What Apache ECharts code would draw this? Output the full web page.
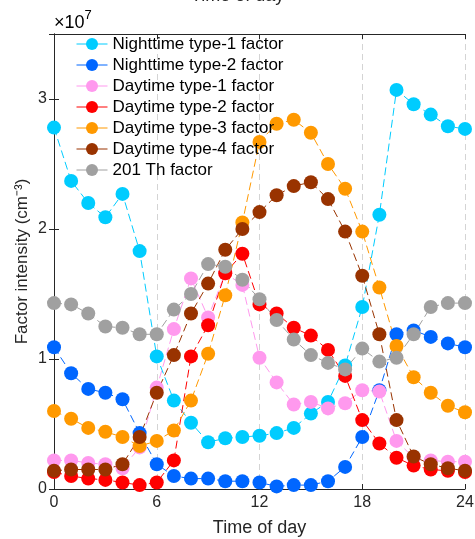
<!DOCTYPE html>
<html>
<head>
<meta charset="utf-8">
<script src="https://cdn.jsdelivr.net/npm/echarts@6/dist/echarts.min.js"></script>
<style>html,body{margin:0;padding:0;background:#fff;}#c{width:475px;height:539px;}</style>
</head>
<body>
<div id="c"></div>
<script>
// hours of day
const hours = [0,1,2,3,4,5,6,7,8,9,10,11,12,13,14,15,16,17,18,19,20,21,22,23,24];
// values in units of 1e7 cm^-3
const nightType1 = [2.78,2.37,2.20,2.09,2.27,1.83,1.02,0.68,0.51,0.36,0.39,0.40,0.41,0.43,0.47,0.58,0.67,0.95,1.40,2.11,3.07,2.96,2.88,2.79,2.77];
const nightType2 = [1.09,0.89,0.77,0.74,0.69,0.43,0.19,0.10,0.08,0.08,0.06,0.06,0.05,0.02,0.03,0.03,0.06,0.17,0.40,0.76,1.19,1.22,1.17,1.12,1.09];
const dayType1 = [0.22,0.22,0.20,0.19,0.16,0.32,0.78,1.23,1.62,1.32,1.66,1.57,1.01,0.82,0.65,0.67,0.62,0.66,0.76,0.75,0.37,0.24,0.22,0.21,0.21];
const dayType2 = [0.13,0.10,0.08,0.07,0.05,0.03,0.05,0.22,1.02,1.26,1.66,1.81,1.42,1.35,1.24,1.18,1.07,0.87,0.53,0.35,0.24,0.18,0.15,0.14,0.13];
const dayType3 = [0.60,0.54,0.47,0.44,0.40,0.33,0.37,0.45,0.68,1.04,1.49,2.05,2.67,2.81,2.84,2.74,2.50,2.31,1.98,1.55,1.10,0.86,0.74,0.64,0.59];
const dayType4 = [0.14,0.15,0.15,0.15,0.19,0.40,0.74,1.03,1.35,1.58,1.84,2.00,2.13,2.26,2.33,2.36,2.23,1.98,1.64,1.19,0.53,0.25,0.19,0.16,0.14];
const th201 = [1.43,1.42,1.35,1.25,1.24,1.19,1.19,1.38,1.50,1.73,1.71,1.61,1.46,1.30,1.15,1.03,0.97,0.92,1.08,0.98,1.01,1.19,1.40,1.43,1.43];
const xTicks = [0,6,12,18,24];
const yTicks = [0,1,2,3];

const seriesDefs = [
  {name:'Nighttime type-1 factor', data:nightType1, color:'#00CCFF'},
  {name:'Nighttime type-2 factor', data:nightType2, color:'#0066FF'},
  {name:'Daytime type-1 factor', data:dayType1, color:'#FF99EE'},
  {name:'Daytime type-2 factor', data:dayType2, color:'#FF0000'},
  {name:'Daytime type-3 factor', data:dayType3, color:'#FF9900'},
  {name:'Daytime type-4 factor', data:dayType4, color:'#993300'},
  {name:'201 Th factor', data:th201, color:'#A0A0A0'}
];

const axisColor = '#262626';
const font = 'Liberation Sans, Arial, sans-serif';

const chart = echarts.init(document.getElementById('c'), null, {renderer:'canvas'});
chart.setOption({
  animation:false,
  backgroundColor:'#fff',
  textStyle:{fontFamily:font},
  grid:{left:54, right:10, top:34, bottom:50, containLabel:false, outerBoundsMode:'none'},
  graphic:[
    {type:'text', left:'center', top:-13, style:{text:'Time of day', font:'18px '+font, fill:axisColor}},
    {type:'text', left:54, top:9, style:{
      text:'{a|×10}{b|7}', rich:{a:{fontSize:18, fontFamily:font, color:axisColor, verticalAlign:'bottom'}, b:{fontSize:13, fontFamily:font, color:axisColor, verticalAlign:'top', padding:[0,0,10,0]}}
    }}
  ],
  legend:{
    orient:'vertical', left:71, top:30,
    itemWidth:31, itemHeight:15, itemGap:3,
    textStyle:{fontSize:17, color:'#000', fontFamily:font, lineHeight:18},
    lineStyle:{type:'solid', width:1},
    data:seriesDefs.map(s=>s.name)
  },
  xAxis:[{
    type:'value', min:0, max:24, interval:6,
    name:'Time of day', nameLocation:'middle', nameGap:30,
    nameTextStyle:{fontSize:18, color:axisColor},
    axisLine:{show:true, onZero:false, lineStyle:{color:axisColor, width:1}},
    axisTick:{show:true, inside:true, length:5, lineStyle:{color:axisColor}},
    axisLabel:{fontSize:16, color:axisColor, margin:6, formatter:v=>xTicks.includes(v)?String(v):''},
    splitLine:{show:true, lineStyle:{type:[6,4], color:'#d4d4d4', width:1}}
  },{
    type:'value', min:0, max:24, interval:6, position:'top',
    axisLine:{show:true, onZero:false, lineStyle:{color:axisColor, width:1}},
    axisTick:{show:true, inside:true, length:5, lineStyle:{color:axisColor}},
    axisLabel:{show:false}, splitLine:{show:false}
  }],
  yAxis:[{
    type:'value', min:0, max:3.5, interval:1,
    name:'Factor intensity (cm⁻³)', nameLocation:'middle', nameGap:23, nameMoveOverlap:false,
    nameTextStyle:{fontSize:17, color:axisColor},
    axisLine:{show:true, lineStyle:{color:axisColor, width:1}},
    axisTick:{show:true, inside:true, length:5, lineStyle:{color:axisColor}},
    axisLabel:{fontSize:16, color:axisColor, margin:7, formatter:v=>yTicks.includes(v)?String(v):''},
    splitLine:{show:false}
  },{
    type:'value', min:0, max:3.5, interval:1, position:'right',
    axisLine:{show:true, lineStyle:{color:axisColor, width:1}},
    axisTick:{show:true, inside:true, length:5, lineStyle:{color:axisColor}},
    axisLabel:{show:false}, splitLine:{show:false}
  }],
  series:seriesDefs.map(s=>({
    name:s.name, type:'line',
    data:hours.map((h,i)=>[h, s.data[i]]),
    symbol:'circle', symbolSize:14,
    itemStyle:{color:s.color},
    lineStyle:{color:s.color, width:1, type:[8,4]},
    emphasis:{disabled:true}
  }))
});
</script>
</body>
</html>
